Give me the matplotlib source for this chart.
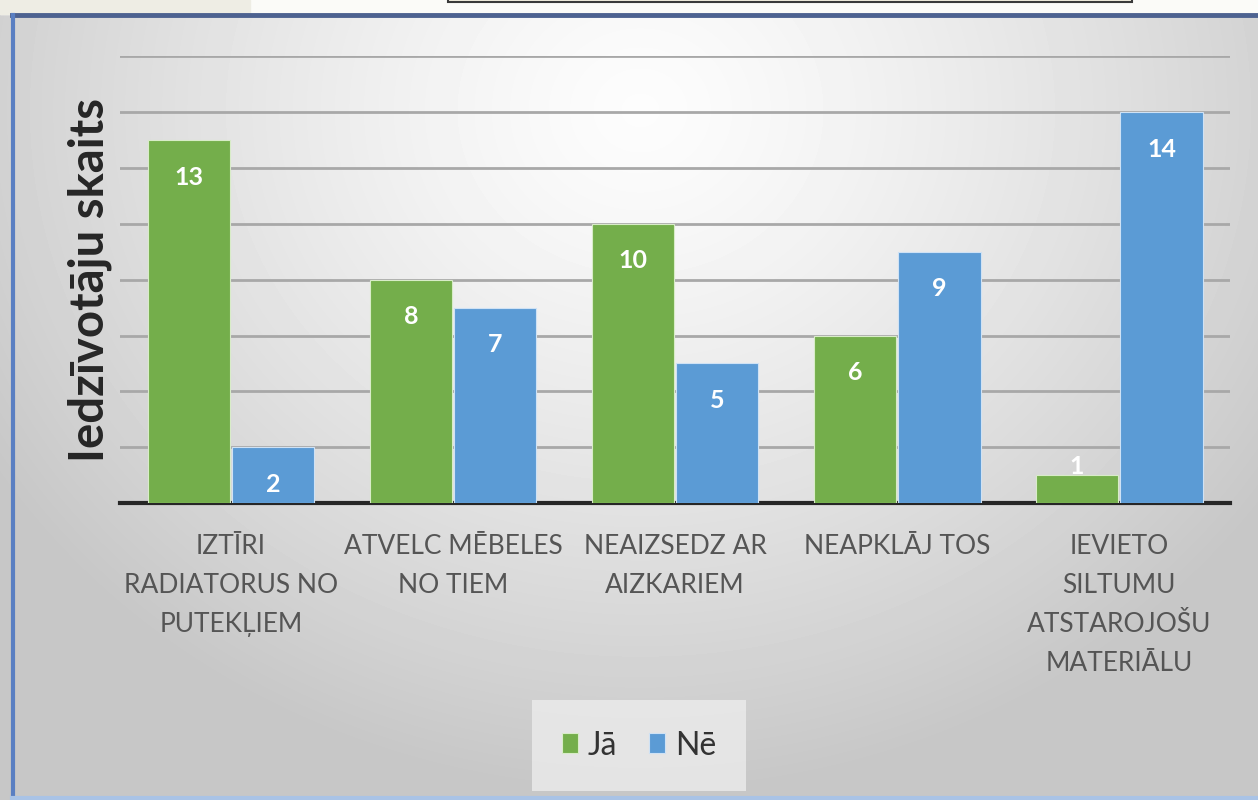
import numpy as np
import matplotlib.pyplot as plt
from matplotlib.patches import Rectangle

categories = ["IZTĪRI\nRADIATORUS NO\nPUTEKĻIEM", "ATVELC MĒBELES\nNO TIEM",
              "NEAIZSEDZ AR\nAIZKARIEM", "NEAPKLĀJ TOS",
              "IEVIETO\nSILTUMU\nATSTAROJOŠU\nMATERIĀLU"]
ja = [13, 8, 10, 6, 1]
ne = [2, 7, 5, 9, 14]
series_names = ["Jā", "Nē"]

green = "#74ae4b"
blue = "#5b9bd5"

plt.rcParams['font.family'] = ['Lato', 'DejaVu Sans']

fig = plt.figure(figsize=(12.58, 8), dpi=100)

# soft radial background
bg = fig.add_axes([0, 0, 1, 1], zorder=0)
h, w = 800, 1258
yy, xx = np.mgrid[0:h, 0:w]
d = np.sqrt(((xx - 640) / 760.0) ** 2 + ((yy - 110) / 680.0) ** 2)
shade = np.clip(0.99 - 0.21 * d ** 1.3, 0.78, 1.0)
bg.imshow(shade, cmap="gray", vmin=0, vmax=1, aspect="auto", extent=[0, w, h, 0])
bg.set_xlim(0, w)
bg.set_ylim(h, 0)
bg.axis("off")

# strip above the frame and frame lines
bg.add_patch(Rectangle((0, 0), w, 14, color="#fbfbf8", zorder=2))
bg.add_patch(Rectangle((0, 0), 250, 14, color="#eeede4", zorder=2))
bg.add_patch(Rectangle((448, -5), 684, 7, facecolor="#f4efe0", edgecolor="#3a3a3a", lw=1.5, zorder=2))
bg.plot([12, w], [15, 15], color="#4d6290", lw=3.5, zorder=3)
bg.plot([13, 13], [15, h], color="#5a7fc2", lw=3, zorder=3)
bg.plot([12, w], [798, 798], color="#a9c3e6", lw=3, zorder=3)

ax = fig.add_axes([0.0954, 0.371, 0.8826, 0.559], zorder=1)
ax.patch.set_alpha(0)

x = np.arange(len(categories))
bw = 0.37
b1 = ax.bar(x - bw / 2 - 0.005, ja, bw, color=green, edgecolor="#d8ecc8", lw=0.8, zorder=3, label=series_names[0])
b2 = ax.bar(x + bw / 2 + 0.005, ne, bw, color=blue, edgecolor="#cfe2f5", lw=0.8, zorder=3, label=series_names[1])

# value labels inside the bar ends; a too-short bar gets its label poking out on top
for bars, vals in ((b1, ja), (b2, ne)):
    for r, v in zip(bars, vals):
        ty = v - 1.33 if v >= 2 else v + 0.3
        ax.text(r.get_x() + r.get_width() / 2, ty, str(v), ha="center", va="center",
                color="white", fontsize=18, fontweight="bold", zorder=4)

ax.set_xlim(-0.5, len(categories) - 0.5)
ax.set_ylim(0, 16)
ax.set_yticks(np.arange(2, 17, 2))
ax.yaxis.grid(True, color="#a8a8a8", lw=2)
ax.set_axisbelow(True)
ax.tick_params(axis="y", length=0, labelleft=False)
ax.tick_params(axis="x", length=0, pad=22)
ax.set_xticks(x)
ax.set_xticklabels(categories, fontsize=19, color="#555555", linespacing=1.7, va="top")
for s in ["top", "right", "left"]:
    ax.spines[s].set_visible(False)
ax.spines["bottom"].set_color("#262626")
ax.spines["bottom"].set_linewidth(3)

ax.set_ylabel("Iedzīvotāju skaits", fontsize=34, fontweight="bold", color="#262626", labelpad=6)

leg = fig.legend(loc="center", bbox_to_anchor=(0.508, 0.068), ncol=2, fontsize=23,
                 handlelength=0.5, handleheight=0.6, handletextpad=0.3, columnspacing=1.0,
                 frameon=True, fancybox=False, borderpad=0.95)
leg.get_frame().set_facecolor("#ececec")
leg.get_frame().set_edgecolor("none")
for t in leg.get_texts():
    t.set_color("#333333")

fig.savefig("out.png", dpi=100)
